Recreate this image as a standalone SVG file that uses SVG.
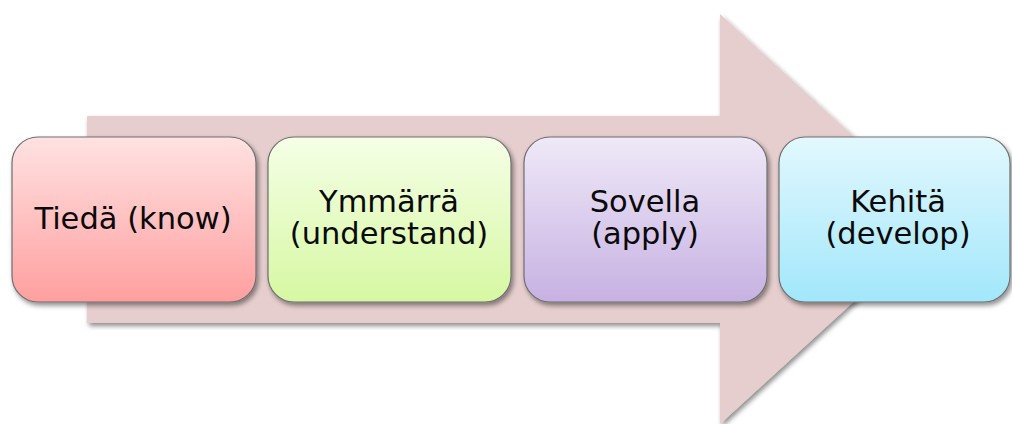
<svg xmlns="http://www.w3.org/2000/svg" width="1012" height="424" viewBox="0 0 1012 424">
  <defs>
    <linearGradient id="gRed" x1="0" y1="0" x2="0" y2="1">
      <stop offset="0" stop-color="#ffe2e2"/>
      <stop offset="1" stop-color="#ff9f9f"/>
    </linearGradient>
    <linearGradient id="gGreen" x1="0" y1="0" x2="0" y2="1">
      <stop offset="0" stop-color="#f5ffe6"/>
      <stop offset="1" stop-color="#d6f8a2"/>
    </linearGradient>
    <linearGradient id="gPurple" x1="0" y1="0" x2="0" y2="1">
      <stop offset="0" stop-color="#efe9f8"/>
      <stop offset="1" stop-color="#c7b1e2"/>
    </linearGradient>
    <linearGradient id="gBlue" x1="0" y1="0" x2="0" y2="1">
      <stop offset="0" stop-color="#e2f8fe"/>
      <stop offset="1" stop-color="#a2e7fb"/>
    </linearGradient>
    <filter id="shadow" x="-10%" y="-10%" width="125%" height="130%">
      <feGaussianBlur in="SourceAlpha" stdDeviation="2.5"/>
      <feOffset dx="2" dy="3" result="b"/>
      <feComponentTransfer><feFuncA type="linear" slope="0.45"/></feComponentTransfer>
      <feMerge><feMergeNode/><feMergeNode in="SourceGraphic"/></feMerge>
    </filter>
  </defs>
  <style>
    .box { stroke: #6e6e6e; stroke-width: 1.2; filter: url(#shadow); }
    .lbl { font-family: "DejaVu Sans", Verdana, sans-serif; font-size: 30.5px; fill: #0a0a0a; text-anchor: middle; }
  </style>

  <rect width="1012" height="424" fill="#ffffff"/>

  <!-- background process arrow -->
  <g id="arrow">
    <path d="M87,116 L720,116 L720,14 L944,219 L720,424 L720,323 L87,323 Z" fill="#e6cece" filter="url(#shadow)"/>
  </g>

  <g id="connectors"></g>

  <g id="node-tieda">
    <rect class="box" x="12" y="137" width="244" height="165" rx="26" fill="url(#gRed)"/>
    <text class="lbl" x="133" y="229">Tiedä (know)</text>
  </g>

  <g id="node-ymmarra">
    <rect class="box" x="268" y="137" width="243" height="165" rx="26" fill="url(#gGreen)"/>
    <text class="lbl" x="389" y="212">Ymmärrä</text>
    <text class="lbl" x="389" y="244">(understand)</text>
  </g>

  <g id="node-sovella">
    <rect class="box" x="524" y="137" width="243" height="165" rx="26" fill="url(#gPurple)"/>
    <text class="lbl" x="645" y="212">Sovella</text>
    <text class="lbl" x="645" y="244">(apply)</text>
  </g>

  <g id="node-kehita">
    <rect class="box" x="779" y="137" width="231" height="165" rx="26" fill="url(#gBlue)"/>
    <text class="lbl" x="898" y="212">Kehitä</text>
    <text class="lbl" x="898" y="244">(develop)</text>
  </g>
</svg>
